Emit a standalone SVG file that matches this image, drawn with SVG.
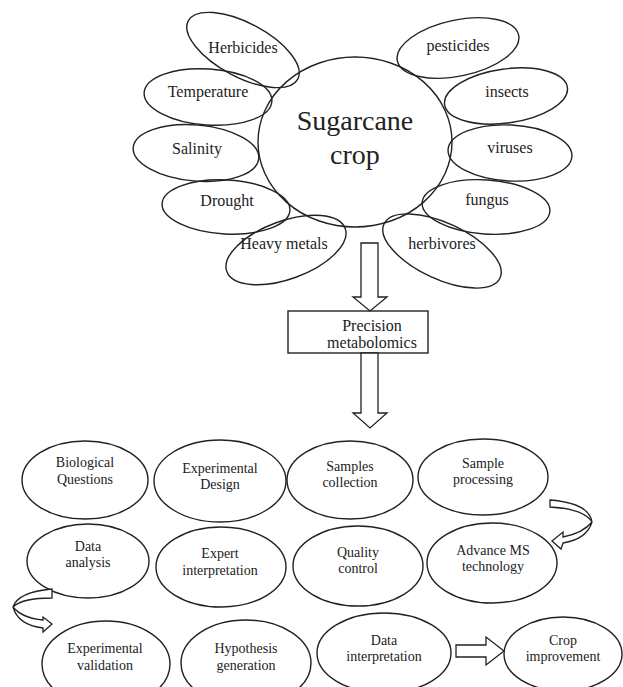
<svg xmlns="http://www.w3.org/2000/svg" width="623" height="687" viewBox="0 0 623 687">
<style>
  .e{fill:none;stroke:#222;stroke-width:1.4}
  .ef{fill:#fff;stroke:#222;stroke-width:1.4}
  .t{font-family:"Liberation Serif","Times New Roman",serif;fill:#222;text-anchor:middle}
  .p{font-size:16px}
  .b{font-size:14px}
  .big{font-size:28px}
  .a{fill:#fff;stroke:#222;stroke-width:1.3;stroke-linejoin:miter}
</style>
<rect width="623" height="687" fill="#fff"/>

<!-- petals -->
<g id="herbicides"><ellipse class="e" cx="243" cy="50" rx="62" ry="27" transform="rotate(28 243 50)"/><text class="t p" x="243" y="53">Herbicides</text></g>
<g id="temperature"><ellipse class="e" cx="208" cy="97" rx="64" ry="28" transform="rotate(4 208 97)"/><text class="t p" x="208" y="97">Temperature</text></g>
<g id="salinity"><ellipse class="e" cx="196" cy="153" rx="63" ry="28" transform="rotate(5 196 153)"/><text class="t p" x="197" y="154">Salinity</text></g>
<g id="drought"><ellipse class="e" cx="226" cy="207" rx="64" ry="27" transform="rotate(3 226 207)"/><text class="t p" x="227" y="206">Drought</text></g>
<g id="heavy-metals"><ellipse class="e" cx="286" cy="250" rx="63" ry="29" transform="rotate(-20 286 250)"/><text class="t p" x="284" y="249">Heavy metals</text></g>
<g id="pesticides"><ellipse class="e" cx="458" cy="48" rx="62" ry="28" transform="rotate(-12 458 48)"/><text class="t p" x="458" y="51">pesticides</text></g>
<g id="insects"><ellipse class="e" cx="506" cy="96" rx="62" ry="27" transform="rotate(-8 506 96)"/><text class="t p" x="507" y="97">insects</text></g>
<g id="viruses"><ellipse class="e" cx="510" cy="153" rx="62" ry="28" transform="rotate(3 510 153)"/><text class="t p" x="510" y="153">viruses</text></g>
<g id="fungus"><ellipse class="e" cx="486" cy="207" rx="64" ry="27" transform="rotate(4 486 207)"/><text class="t p" x="487" y="205">fungus</text></g>
<g id="herbivores"><ellipse class="e" cx="442" cy="251" rx="64" ry="28" transform="rotate(25 442 251)"/><text class="t p" x="442" y="249">herbivores</text></g>

<!-- center -->
<g id="sugarcane"><ellipse class="e" cx="355" cy="142" rx="97" ry="85"/><text class="t big" x="355" y="130">Sugarcane</text><text class="t big" x="355" y="164">crop</text></g>

<g id="precision"><rect class="ef" x="288" y="311" width="140" height="42"/><text class="t p" x="372" y="331">Precision</text><text class="t p" x="372" y="348">metabolomics</text></g>

<!-- workflow -->
<g id="biological"><ellipse class="e" cx="85" cy="480" rx="63" ry="39"/><text class="t b" x="85" y="467">Biological</text><text class="t b" x="85" y="484">Questions</text></g>
<g id="exp-design"><ellipse class="e" cx="220" cy="481" rx="66" ry="41"/><text class="t b" x="220" y="473">Experimental</text><text class="t b" x="220" y="489">Design</text></g>
<g id="samples"><ellipse class="e" cx="350" cy="480" rx="63" ry="39"/><text class="t b" x="350" y="471">Samples</text><text class="t b" x="350" y="487">collection</text></g>
<g id="processing"><ellipse class="e" cx="483" cy="477" rx="65" ry="38"/><text class="t b" x="483" y="468">Sample</text><text class="t b" x="483" y="484">processing</text></g>

<g id="data-analysis"><ellipse class="e" cx="88" cy="561" rx="61" ry="37"/><text class="t b" x="88" y="551">Data</text><text class="t b" x="88" y="567">analysis</text></g>
<g id="expert"><ellipse class="e" cx="221" cy="567" rx="65" ry="40"/><text class="t b" x="220" y="558">Expert</text><text class="t b" x="220" y="575">interpretation</text></g>
<g id="quality"><ellipse class="e" cx="358" cy="566" rx="65" ry="40"/><text class="t b" x="358" y="557">Quality</text><text class="t b" x="358" y="573">control</text></g>
<g id="advance-ms"><ellipse class="e" cx="492" cy="563" rx="65" ry="40"/><text class="t b" x="493" y="555">Advance MS</text><text class="t b" x="493" y="571">technology</text></g>

<g id="exp-validation"><ellipse class="e" cx="106" cy="664" rx="64" ry="43"/><text class="t b" x="105" y="653">Experimental</text><text class="t b" x="105" y="670">validation</text></g>
<g id="hypothesis"><ellipse class="e" cx="246" cy="663" rx="65" ry="43"/><text class="t b" x="246" y="653">Hypothesis</text><text class="t b" x="246" y="670">generation</text></g>
<g id="data-interp"><ellipse class="e" cx="384" cy="653" rx="67" ry="40"/><text class="t b" x="384" y="645">Data</text><text class="t b" x="384" y="661">interpretation</text></g>
<g id="crop-improvement"><ellipse class="e" cx="563" cy="654" rx="59" ry="37"/><text class="t b" x="563" y="645">Crop</text><text class="t b" x="563" y="661">improvement</text></g>

<!-- connectors -->
<g id="connectors">
  <path class="a" d="M361,243 L378,243 L378,297 L387,297 L370,311 L353,297 L361,297 Z"/>
  <path class="a" d="M361,353 L378,353 L378,413 L387,413 L370,428 L353,413 L361,413 Z"/>
  <path class="a" d="M456,645 L486,645 L486,637 L504,651 L486,665 L486,657 L456,657 Z"/>
  <path class="a" d="M550,500 Q589,503 592,522 Q587,539 563,543 L561,549 L552,541 L563,532 L563,537 Q583,533 592,522 Q584,509 550,507 Z"/>
  <path class="a" d="M52,589 Q18,592 13,607 Q18,625 43,628 L43,632 L52,624 L43,617 L43,620 Q22,618 13,607 Q22,598 52,598 Z"/>
</g>
</svg>
